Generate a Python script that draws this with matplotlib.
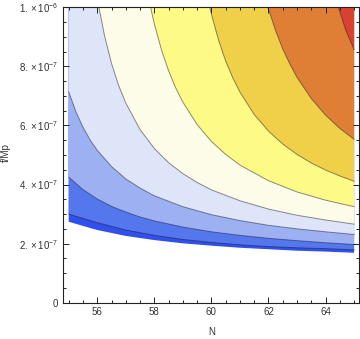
import numpy as np
import matplotlib
matplotlib.use('Agg')
import matplotlib.pyplot as plt
from matplotlib.ticker import FixedLocator, MultipleLocator

plt.rcParams['font.family'] = ['Liberation Sans', 'DejaVu Sans']
plt.rcParams['mathtext.fontset'] = 'custom'
plt.rcParams['mathtext.rm'] = 'Liberation Sans'
plt.rcParams['mathtext.it'] = 'Liberation Sans:italic'
plt.rcParams['mathtext.bf'] = 'Liberation Sans:bold'

# ---- data: contour boundaries, f/Mp values in units of 1e-6 ----
N_full = [55, 56, 57, 58, 59, 60, 61, 62, 63, 64, 65]
edge_lower = [0.274, 0.246, 0.226, 0.212, 0.201, 0.193, 0.186, 0.181, 0.176, 0.173, 0.169]
level_1 = [0.300, 0.271, 0.246, 0.228, 0.214, 0.204, 0.196, 0.190, 0.186, 0.183, 0.179]

N_level_2 = [55, 55.5, 56, 56.5, 57, 57.5, 58, 59, 60, 61, 62, 63, 64, 65]
level_2 = [0.425, 0.383, 0.351, 0.326, 0.307, 0.290, 0.277, 0.256, 0.240, 0.228,
           0.218, 0.210, 0.203, 0.197]

N_level_3 = [55, 55.25, 55.5, 55.75, 56, 56.5, 57, 57.5, 58, 59, 60, 61, 62, 63, 64, 65]
level_3 = [0.714, 0.647, 0.594, 0.551, 0.516, 0.461, 0.419, 0.388, 0.362, 0.325,
           0.298, 0.278, 0.262, 0.250, 0.240, 0.231]

N_level_4 = [56.06, 56.25, 56.5, 56.75, 57, 57.5, 58, 58.5, 59, 59.5, 60, 61, 62, 63, 64, 65]
level_4 = [1.000, 0.906, 0.810, 0.735, 0.676, 0.586, 0.522, 0.474, 0.437, 0.407,
           0.382, 0.345, 0.317, 0.296, 0.280, 0.266]

N_level_5 = [57.87, 58, 58.25, 58.5, 58.75, 59, 59.5, 60, 60.5, 61, 62, 63, 64, 65]
level_5 = [1.000, 0.944, 0.856, 0.785, 0.727, 0.679, 0.603, 0.546, 0.502, 0.466,
           0.413, 0.375, 0.347, 0.325]

N_level_6 = [59.94, 60, 60.25, 60.5, 60.75, 61, 61.5, 62, 62.5, 63, 63.5, 64, 64.5, 65]
level_6 = [1.000, 0.977, 0.889, 0.818, 0.761, 0.713, 0.637, 0.581, 0.537, 0.502,
           0.473, 0.449, 0.429, 0.411]

N_level_7 = [61.98, 62.25, 62.5, 62.75, 63, 63.5, 64, 64.5, 65]
level_7 = [1.000, 0.921, 0.859, 0.808, 0.763, 0.691, 0.635, 0.590, 0.553]

N_level_8 = [64.45, 64.7, 65]
level_8 = [1.000, 0.925, 0.857]

band_colors = ['#2f50ea', '#5577ee', '#9cb0f2', '#dfe5f8', '#fcfce8',
               '#fefa86', '#f0d048', '#df7f36', '#d94231']

scale = 1e-6
curves = [
    (N_full, edge_lower, False),
    (N_full, level_1, True),
    (N_level_2, level_2, True),
    (N_level_3, level_3, True),
    (N_level_4, level_4, True),
    (N_level_5, level_5, True),
    (N_level_6, level_6, True),
    (N_level_7, level_7, True),
    (N_level_8, level_8, True),
]

fig = plt.figure(figsize=(3.6, 3.39), dpi=100)
ax = fig.add_axes([63.3 / 360, 36.3 / 339, (359.5 - 63.3) / 360, (302.7 - 7.3) / 339])

top = 1e-6
for (nx, vy, draw_line), col in zip(curves, band_colors):
    nx = list(nx)
    vy = [v * scale for v in vy]
    px = nx + [65, nx[0]]
    py = vy + [top, top]
    ax.fill(px, py, color=col, lw=0, zorder=1)
for (nx, vy, draw_line) in curves:
    if draw_line:
        ax.plot(nx, [v * scale for v in vy], color=(0.1, 0.1, 0.2, 0.5), lw=0.7, zorder=2)

ax.set_xlim(54.81, 65.19)
ax.set_ylim(0, 1e-6)

ax.xaxis.set_major_locator(FixedLocator([56, 58, 60, 62, 64]))
ax.xaxis.set_minor_locator(MultipleLocator(0.5))
ax.yaxis.set_major_locator(FixedLocator([0, 2e-7, 4e-7, 6e-7, 8e-7, 1e-6]))
ax.yaxis.set_minor_locator(MultipleLocator(0.5e-7))
ax.set_xticklabels(['56', '58', '60', '62', '64'])
ax.set_yticklabels(['0', r'$2.\times10^{-7}$', r'$4.\times10^{-7}$', r'$6.\times10^{-7}$',
                    r'$8.\times10^{-7}$', r'$1.\times10^{-6}$'])

tc = '#333333'
ax.tick_params(which='both', direction='in', top=True, right=True, color='#222222',
               width=0.7, labelsize=7, labelcolor=tc)
ax.tick_params(which='major', length=4.5, pad=3.5)
ax.tick_params(which='minor', length=2.5)
ax.tick_params(axis='x', pad=3)
for s in ax.spines.values():
    s.set_linewidth(0.8)
    s.set_color('#222222')
    s.set_zorder(5)

fig.text(211.5 / 360, 1 - 331.7 / 339, 'N', ha='center', va='center', fontsize=7, color=tc)
fig.text(5.5 / 360, 1 - 152.5 / 339, 'f/Mp', ha='center', va='center', rotation=90,
         fontsize=7, color=tc)

fig.savefig('out.png', dpi=100)
